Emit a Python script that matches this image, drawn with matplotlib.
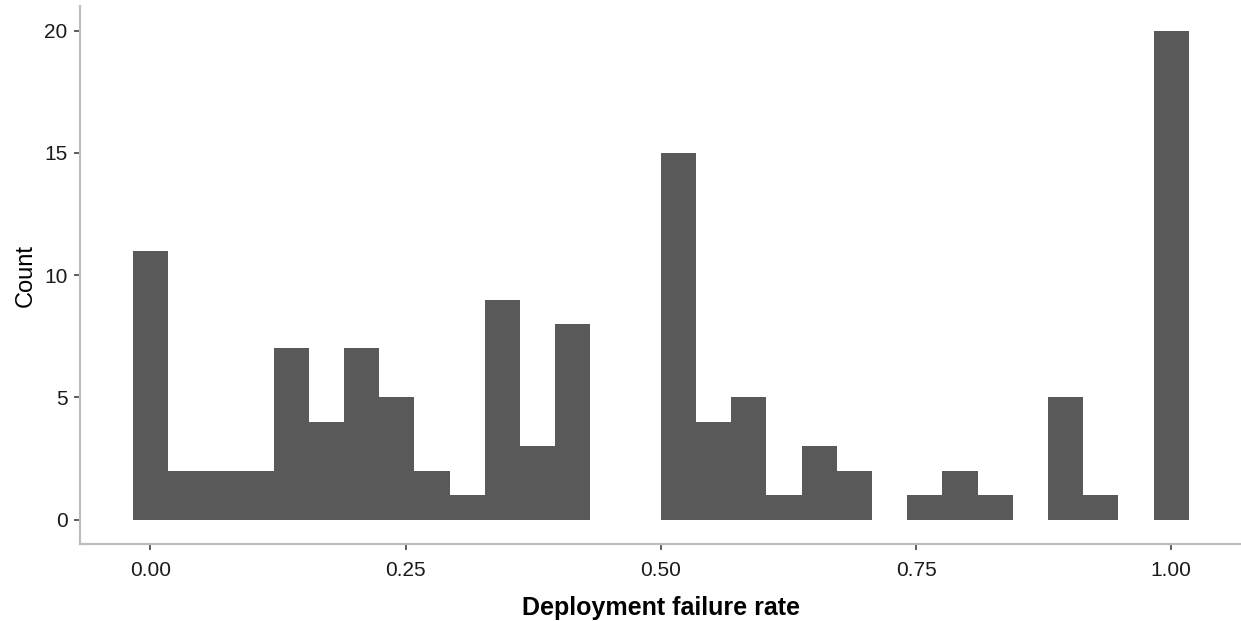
import numpy as np
import matplotlib
matplotlib.use("Agg")
import matplotlib.pyplot as plt

plt.rcParams['font.family'] = ['Liberation Sans', 'DejaVu Sans']

# histogram: 30 bins, centres at k/29 for k = 0..29
n_bins = 30
counts = [11, 2, 2, 2, 7, 4, 7, 5, 2, 1, 9, 3, 8, 0, 0,
          15, 4, 5, 1, 3, 2, 0, 1, 2, 1, 0, 5, 1, 0, 20]
x_ticks = [0.0, 0.25, 0.5, 0.75, 1.0]
x_tick_labels = ["0.00", "0.25", "0.50", "0.75", "1.00"]
y_ticks = [0, 5, 10, 15, 20]

width = 1.0 / (n_bins - 1)
centres = np.arange(n_bins) * width

fig = plt.figure(figsize=(12.41, 6.21), dpi=100)
ax = fig.add_axes([0.0645, 0.124, 0.936, 0.866])

ax.bar(centres, counts, width=width, color="#595959", edgecolor="none",
       linewidth=0, align="center")

lo, hi = centres[0] - width / 2, centres[-1] + width / 2
pad = 0.05 * (hi - lo)
ax.set_xlim(lo - pad, hi + pad)
ax.set_ylim(-1, 21)

ax.set_xticks(x_ticks)
ax.set_xticklabels(x_tick_labels)
ax.set_yticks(y_ticks)

for s in ["top", "right"]:
    ax.spines[s].set_visible(False)
for s in ["left", "bottom"]:
    ax.spines[s].set_color("#bdbdbd")
    ax.spines[s].set_linewidth(1.6)

ax.tick_params(axis="both", direction="out", length=4, width=1.1,
               color="#333333", labelsize=15, labelcolor="#1a1a1a", pad=5)
ax.tick_params(axis="x", pad=8)

ax.set_xlabel("Deployment failure rate", fontsize=18, fontweight="bold",
              labelpad=12)
ax.set_ylabel("Count", fontsize=17, labelpad=5)

fig.savefig("out.png", dpi=100)
